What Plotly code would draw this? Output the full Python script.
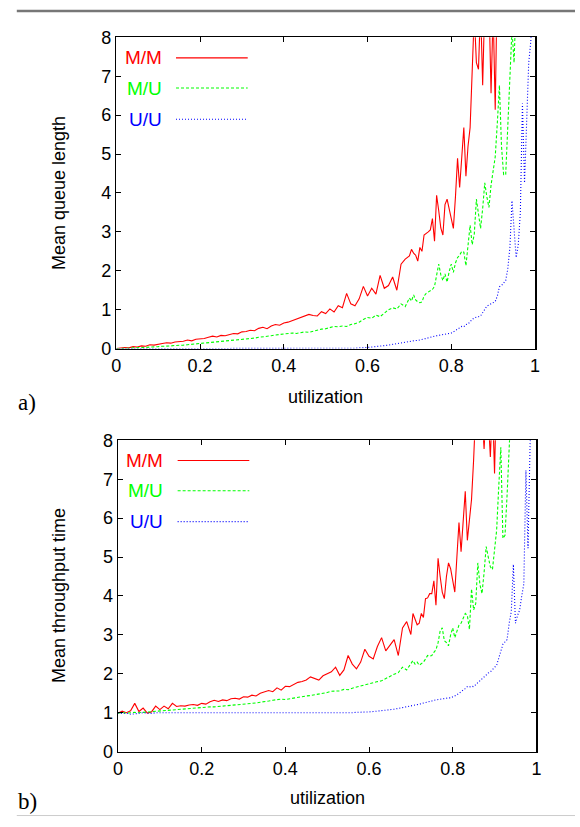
import plotly.graph_objects as go

# ---------------- data ----------------
# utilization grid: step 0.01 up to 0.70, then 0.005
utilization = [
    0.00, 0.01, 0.02, 0.03, 0.04, 0.05, 0.06, 0.07, 0.08, 0.09,
    0.10, 0.11, 0.12, 0.13, 0.14, 0.15, 0.16, 0.17, 0.18, 0.19,
    0.20, 0.21, 0.22, 0.23, 0.24, 0.25, 0.26, 0.27, 0.28, 0.29,
    0.30, 0.31, 0.32, 0.33, 0.34, 0.35, 0.36, 0.37, 0.38, 0.39,
    0.40, 0.41, 0.42, 0.43, 0.44, 0.45, 0.46, 0.47, 0.48, 0.49,
    0.50, 0.51, 0.52, 0.53, 0.54, 0.55, 0.56, 0.57, 0.58, 0.59,
    0.60, 0.61, 0.62, 0.63, 0.64, 0.65, 0.66, 0.67, 0.68, 0.69,
    0.70, 0.705, 0.71, 0.715, 0.72, 0.725, 0.73, 0.735, 0.74, 0.745,
    0.75, 0.755, 0.76, 0.765, 0.77, 0.775, 0.78, 0.785, 0.79, 0.795,
    0.80, 0.805, 0.81, 0.815, 0.82, 0.825, 0.83, 0.835, 0.84, 0.845,
    0.85, 0.855, 0.86, 0.865, 0.87, 0.875, 0.88, 0.885, 0.89, 0.895,
    0.90, 0.905, 0.91, 0.915, 0.92, 0.925, 0.93, 0.935, 0.94, 0.945,
    0.95, 0.955, 0.96, 0.965, 0.97, 0.975, 0.98, 0.985, 0.99, 0.995,
]

# a) mean queue length
queue_mm = [
    0.00, 0.02, 0.03, 0.02, 0.05, 0.04, 0.07, 0.06, 0.10, 0.09,
    0.12, 0.13, 0.15, 0.14, 0.17, 0.18, 0.19, 0.22, 0.20, 0.24,
    0.25, 0.26, 0.29, 0.32, 0.30, 0.34, 0.33, 0.37, 0.39, 0.38,
    0.43, 0.44, 0.47, 0.46, 0.52, 0.55, 0.51, 0.58, 0.62, 0.60,
    0.66, 0.68, 0.72, 0.74, 0.78, 0.82, 0.88, 0.85, 0.84, 0.95,
    0.90, 1.02, 0.94, 1.10, 1.05, 1.42, 1.15, 1.10, 1.28, 1.60,
    1.35, 1.55, 1.40, 1.88, 1.55, 1.62, 1.84, 1.50, 2.17, 2.30,
    2.38, 2.55, 2.45, 2.40, 2.25, 2.60, 2.50, 2.92, 2.95, 3.00,
    3.05, 3.34, 2.76, 3.94, 3.55, 3.10, 2.92, 3.70, 3.84, 3.60,
    3.30, 3.09, 3.90, 4.89, 4.14, 4.90, 5.68, 4.43, 5.20, 5.68,
    7.00, 8.60, 7.35, 7.18, 8.80, 6.77, 8.90, 8.40, 9.00, 6.56,
    8.70, 6.14, 9.60,
]
queue_mu = [
    0.00, 0.00, 0.01, 0.01, 0.02, 0.02, 0.03, 0.03, 0.04, 0.04,
    0.05, 0.06, 0.06, 0.07, 0.08, 0.08, 0.09, 0.10, 0.11, 0.12,
    0.13, 0.14, 0.15, 0.16, 0.17, 0.18, 0.19, 0.20, 0.21, 0.22,
    0.23, 0.24, 0.26, 0.27, 0.29, 0.30, 0.32, 0.33, 0.35, 0.36,
    0.37, 0.38, 0.40, 0.39, 0.42, 0.43, 0.42, 0.45, 0.48, 0.50,
    0.51, 0.55, 0.57, 0.56, 0.58, 0.57, 0.62, 0.64, 0.68, 0.75,
    0.80, 0.78, 0.86, 0.82, 0.92, 1.00, 1.05, 1.02, 1.15, 1.08,
    1.30, 1.22, 1.38, 1.25, 1.20, 1.18, 1.20, 1.35, 1.42, 1.46,
    1.48, 1.52, 1.60, 1.85, 2.17, 1.90, 1.75, 1.92, 1.71, 1.98,
    2.17, 1.96, 2.20, 2.34, 2.40, 2.50, 2.48, 2.13, 2.60, 3.17,
    2.67, 2.95, 3.84, 3.40, 3.09, 3.60, 4.26, 3.90, 3.63, 4.20,
    4.60, 4.93, 5.80, 6.77, 5.20, 4.47, 4.47, 5.60, 6.85, 8.20,
    7.35, 9.00,
]
queue_uu = [
    0.00, 0.00, 0.00, 0.00, 0.00, 0.00, 0.00, 0.00, 0.00, 0.00,
    0.00, 0.00, 0.00, 0.00, 0.00, 0.00, 0.00, 0.00, 0.00, 0.00,
    0.00, 0.00, 0.00, 0.00, 0.00, 0.00, 0.00, 0.00, 0.00, 0.00,
    0.00, 0.00, 0.00, 0.00, 0.00, 0.00, 0.00, 0.00, 0.00, 0.00,
    0.00, 0.00, 0.00, 0.00, 0.00, 0.00, 0.00, 0.00, 0.00, 0.00,
    0.00, 0.00, 0.00, 0.00, 0.00, 0.00, 0.01, 0.01, 0.02, 0.02,
    0.03, 0.04, 0.05, 0.06, 0.08, 0.09, 0.11, 0.13, 0.14, 0.16,
    0.18, 0.19, 0.20, 0.21, 0.21, 0.23, 0.24, 0.25, 0.26, 0.28,
    0.29, 0.30, 0.32, 0.33, 0.34, 0.35, 0.36, 0.37, 0.37, 0.38,
    0.40, 0.43, 0.46, 0.50, 0.54, 0.57, 0.56, 0.62, 0.63, 0.70,
    0.75, 0.79, 0.80, 0.82, 0.84, 0.92, 1.00, 1.09, 1.12, 1.15,
    1.18, 1.21, 1.35, 1.59, 1.62, 1.70, 1.75, 2.05, 2.60, 3.80,
    3.00, 2.34, 2.67, 3.50, 6.30, 4.26, 5.80, 7.35, 7.90, 9.00,
]

# b) mean throughput time
thru_mm = [
    0.99, 1.04, 1.00, 1.05, 1.24, 1.03, 1.12, 0.99, 1.02, 1.17,
    1.08, 1.17, 1.10, 1.24, 1.16, 1.18, 1.17, 1.20, 1.21, 1.19,
    1.24, 1.22, 1.28, 1.32, 1.29, 1.33, 1.31, 1.36, 1.37, 1.35,
    1.41, 1.40, 1.45, 1.43, 1.50, 1.53, 1.57, 1.54, 1.64, 1.58,
    1.68, 1.67, 1.72, 1.78, 1.80, 1.84, 1.92, 1.88, 1.84, 1.95,
    2.00, 2.05, 2.17, 1.96, 2.10, 2.47, 2.25, 2.13, 2.30, 2.63,
    2.45, 2.38, 2.70, 2.93, 2.59, 2.75, 2.88, 2.47, 3.18, 3.34,
    3.01, 3.55, 3.40, 3.26, 3.30, 3.55, 3.45, 3.93, 3.95, 4.06,
    4.06, 4.39, 3.76, 4.97, 4.50, 4.10, 3.93, 4.50, 4.85, 4.70,
    4.40, 4.10, 5.00, 5.89, 5.14, 5.80, 6.69, 5.43, 6.00, 6.48,
    7.50, 8.80, 8.60, 9.00, 8.70, 7.78, 8.80, 8.60, 7.57, 9.00,
    7.15, 9.50,
]
thru_mu = [
    0.99, 1.00, 0.99, 1.00, 1.01, 1.00, 1.01, 1.02, 1.03, 1.03,
    1.05, 1.05, 1.07, 1.08, 1.09, 1.09, 1.10, 1.11, 1.11, 1.12,
    1.13, 1.14, 1.15, 1.15, 1.16, 1.17, 1.17, 1.18, 1.20, 1.21,
    1.22, 1.23, 1.24, 1.25, 1.27, 1.28, 1.30, 1.32, 1.34, 1.35,
    1.34, 1.36, 1.37, 1.40, 1.41, 1.43, 1.44, 1.46, 1.48, 1.49,
    1.52, 1.55, 1.55, 1.56, 1.60, 1.59, 1.63, 1.66, 1.68, 1.72,
    1.74, 1.78, 1.80, 1.82, 1.88, 1.93, 1.99, 2.03, 2.17, 2.10,
    2.25, 2.34, 2.25, 2.30, 2.22, 2.25, 2.30, 2.38, 2.47, 2.45,
    2.47, 2.55, 2.62, 2.80, 3.10, 3.18, 2.85, 2.80, 2.72, 3.00,
    3.18, 2.93, 3.10, 3.25, 3.30, 3.45, 3.55, 3.50, 3.14, 4.18,
    3.64, 3.80, 4.85, 4.30, 4.06, 4.60, 5.27, 5.00, 4.75, 4.68,
    5.20, 5.69, 6.80, 7.82, 5.48, 5.56, 6.60, 8.00, 9.00,
]
thru_uu = [
    1.00, 0.98, 0.99, 0.96, 0.97, 0.98, 1.00, 0.99, 0.98, 1.00,
    1.00, 0.99, 1.00, 1.00, 0.99, 1.00, 1.00, 1.00, 0.99, 1.00,
    1.00, 1.00, 1.00, 0.99, 1.00, 1.00, 1.00, 1.00, 1.00, 1.00,
    0.99, 1.00, 1.00, 1.00, 1.00, 1.00, 1.00, 1.00, 1.00, 1.00,
    1.00, 1.00, 1.00, 1.00, 1.00, 1.00, 1.00, 1.00, 1.00, 1.00,
    1.00, 1.00, 1.00, 1.00, 1.00, 1.00, 1.00, 1.01, 1.01, 1.02,
    1.02, 1.03, 1.04, 1.05, 1.06, 1.08, 1.09, 1.11, 1.13, 1.15,
    1.17, 1.18, 1.20, 1.21, 1.22, 1.23, 1.25, 1.26, 1.28, 1.29,
    1.30, 1.32, 1.33, 1.34, 1.35, 1.36, 1.36, 1.37, 1.38, 1.38,
    1.40, 1.43, 1.46, 1.50, 1.55, 1.58, 1.62, 1.67, 1.66, 1.68,
    1.67, 1.72, 1.78, 1.84, 1.88, 1.93, 1.97, 2.02, 2.05, 2.10,
    2.15, 2.22, 2.40, 2.62, 2.76, 2.82, 2.88, 3.30, 3.60, 4.81,
    3.30, 3.50, 3.64, 4.00, 4.31, 7.23, 5.23, 7.90, 9.00,
]

series_names = ["M/M", "M/U", "U/U"]
series_colors = ["#ff0000", "#00ff00", "#0000ff"]
series_dash = ["solid", "3px,2px", "1px,2px"]
x_tick_vals = [0, 0.2, 0.4, 0.6, 0.8, 1]
x_tick_text = ["0", "0.2", "0.4", "0.6", "0.8", "1"]
y_tick_vals = [0, 1, 2, 3, 4, 5, 6, 7, 8]

# the page body margin is removed by a post-script, so the figure fills the page
W, H = 580, 827

def px_x(p):
    return p / W

def px_y(p):
    return 1 - p / H

fig = go.Figure()

panels = [
    ("x", "y", [queue_mm, queue_mu, queue_uu]),
    ("x2", "y2", [thru_mm, thru_mu, thru_uu]),
]
for xa, ya, data in panels:
    for name, col, dash, vals in zip(series_names, series_colors, series_dash, data):
        fig.add_trace(go.Scatter(
            x=utilization[:len(vals)], y=vals, mode="lines", name=name,
            line=dict(color=col, width=1.1, dash=dash),
            xaxis=xa, yaxis=ya, showlegend=False, hoverinfo="skip",
        ))

tick_font = dict(family="Liberation Sans, Arial, sans-serif", size=18, color="#000")
axis_common = dict(
    showline=True, linecolor="#000", linewidth=1.5, mirror="ticks",
    ticks="inside", ticklen=5, tickwidth=1, tickcolor="#000",
    showgrid=False, zeroline=False, tickfont=tick_font,
)

fig.update_layout(
    width=W, height=H,
    margin=dict(l=0, r=0, t=0, b=0),
    paper_bgcolor="white", plot_bgcolor="white",
    xaxis=dict(domain=[px_x(113.3), px_x(539.3)], range=[0, 1], anchor="y",
               tickvals=x_tick_vals, ticktext=x_tick_text, **axis_common),
    yaxis=dict(domain=[px_y(347), px_y(28)], range=[0, 8], anchor="x",
               tickvals=y_tick_vals, **axis_common),
    xaxis2=dict(domain=[px_x(115), px_x(540.7)], range=[0, 1], anchor="y2",
                tickvals=x_tick_vals, ticktext=x_tick_text, **axis_common),
    yaxis2=dict(domain=[px_y(760), px_y(441)], range=[0, 8], anchor="x2",
                tickvals=y_tick_vals, **axis_common),
)

label_font = dict(family="Liberation Sans, Arial, sans-serif", size=18, color="#000")
annotations = []
shapes = []

# axis titles
for xc, yc, txt, ang in [
    (326, 397, "utilization", 0), (328, 808, "utilization", 0),
    (55, 187.5, "Mean queue length", -90), (55, 600.5, "Mean throughput time", -90),
]:
    annotations.append(dict(x=px_x(xc), y=px_y(yc), xref="paper", yref="paper",
                            text=txt, showarrow=False, textangle=ang, font=label_font,
                            xanchor="center", yanchor="middle"))

# panel letters
for yc, txt in [(402, "a)"), (811, "b)")]:
    annotations.append(dict(x=px_x(11), y=px_y(yc), xref="paper", yref="paper",
                            text=txt, showarrow=False, xanchor="left", yanchor="middle",
                            font=dict(family="Liberation Serif, serif", size=23, color="#000")))

# legends (inside each panel)
leg_rows = {"x": [0.934, 0.837, 0.737], "x2": [0.935, 0.838, 0.739]}
for xa, ya in [("x", "y"), ("x2", "y2")]:
    for name, col, dash, yy in zip(series_names, series_colors, series_dash, leg_rows[xa]):
        annotations.append(dict(x=0.113, y=yy, xref=f"{xa} domain", yref=f"{ya} domain",
                                text=name, showarrow=False, xanchor="right", yanchor="middle",
                                font=dict(family="Liberation Sans, Arial, sans-serif", size=19, color=col)))
        shapes.append(dict(type="line", xref=f"{xa} domain", yref=f"{ya} domain",
                           x0=0.1425, x1=0.3138, y0=yy, y1=yy,
                           line=dict(color=col, width=1.1, dash=dash)))

# page rules (top and bottom)
shapes.append(dict(type="line", xref="paper", yref="paper", x0=px_x(12), x1=1,
                   y0=px_y(1), y1=px_y(1), line=dict(color="#777", width=2.5)))
shapes.append(dict(type="line", xref="paper", yref="paper", x0=px_x(12), x1=1,
                   y0=px_y(825.5), y1=px_y(825.5), line=dict(color="#ccc", width=1)))

fig.update_layout(annotations=annotations, shapes=shapes)

fig.write_html(
    "out.html",
    config={"displayModeBar": False, "staticPlot": True},
    post_script="document.body.style.margin='0';document.body.style.overflow='hidden';",
)
